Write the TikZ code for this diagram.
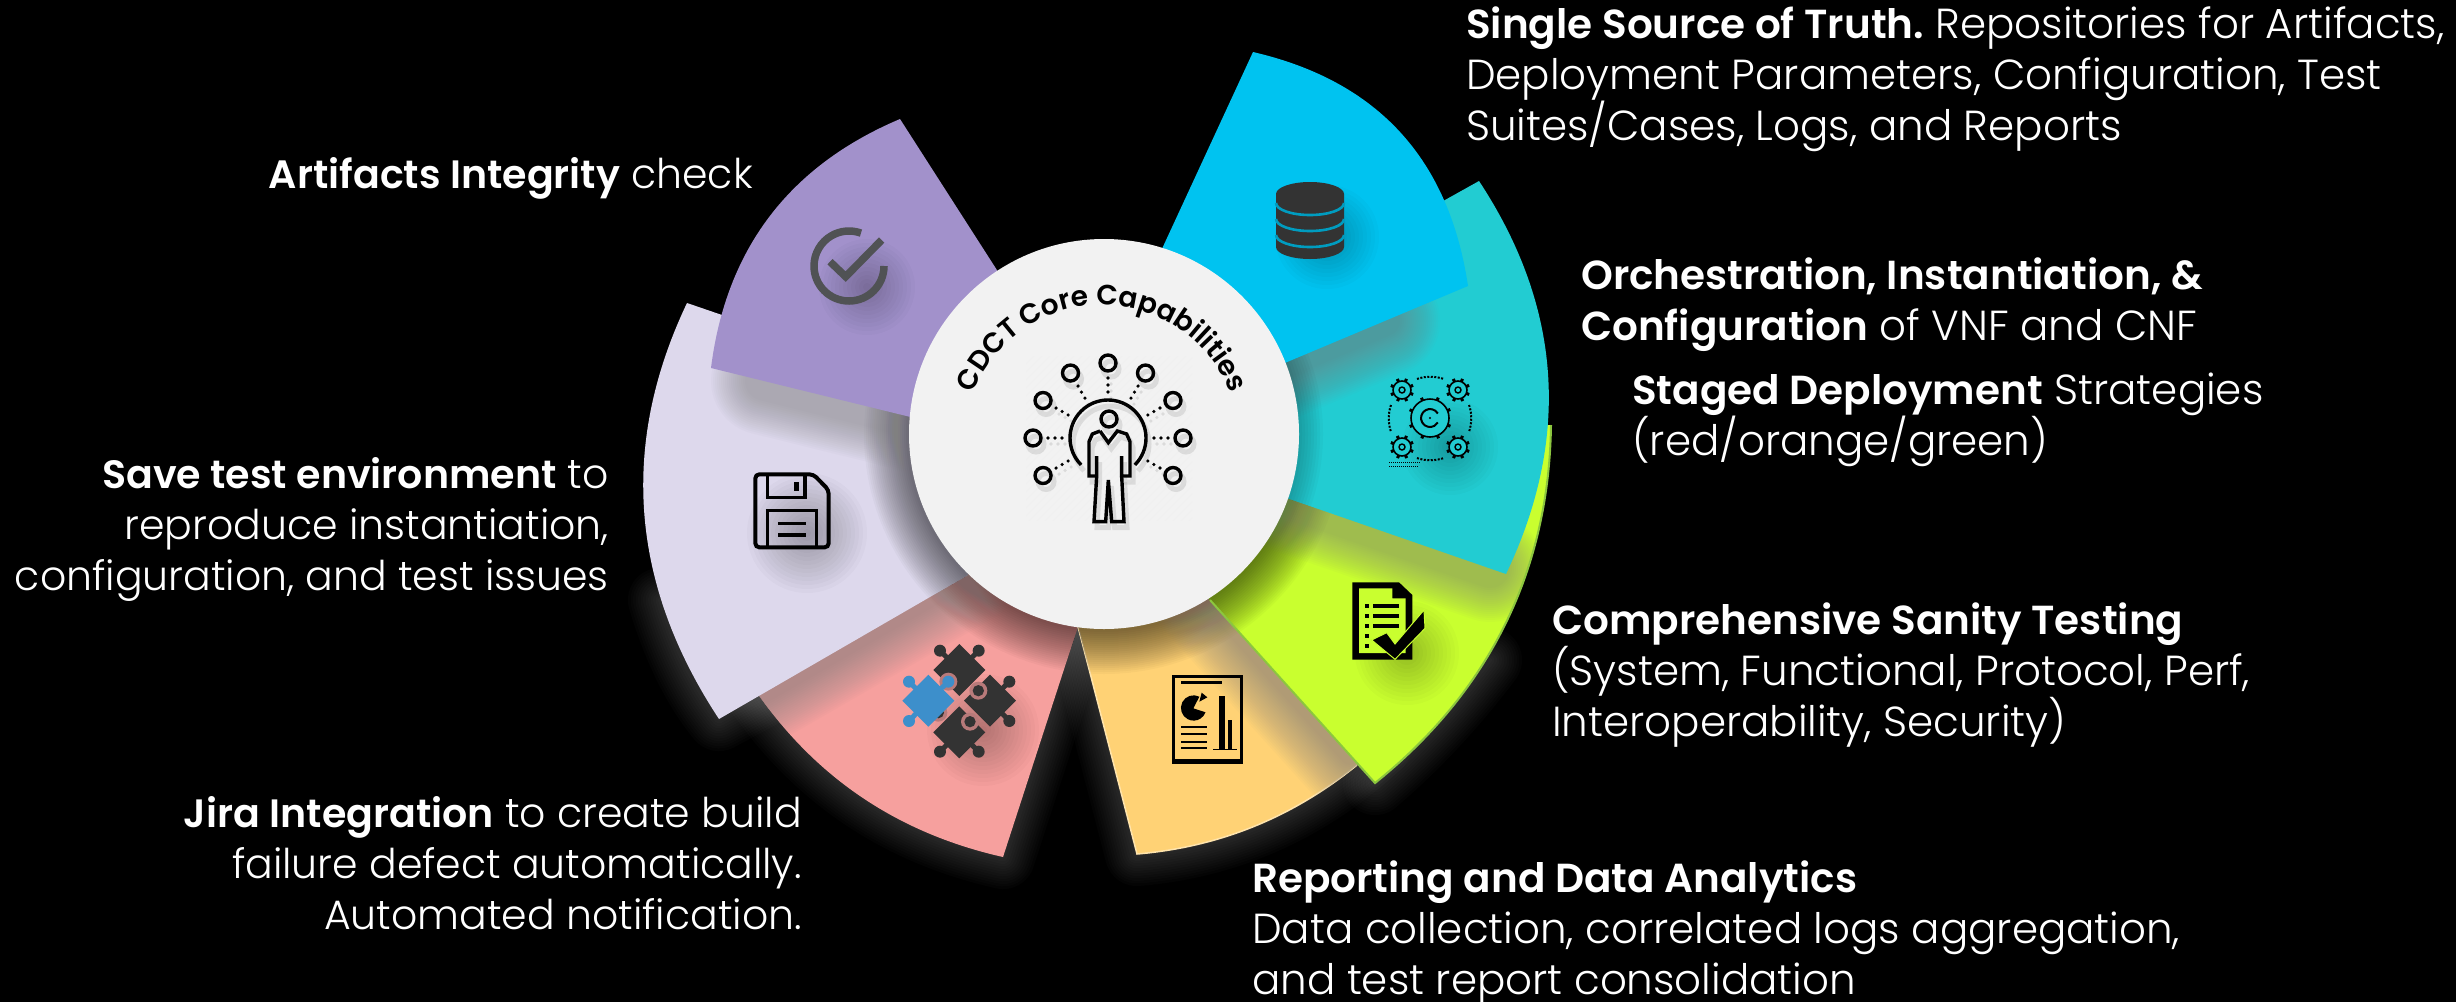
\documentclass[tikz,border=0pt]{standalone}
\usepackage{fontspec}
\setmainfont{Poppins}[UprightFont=* Light,BoldFont=* SemiBold,BoldFeatures={Scale=.965}]
\newfontfamily\ringfont{Poppins SemiBold}
\usetikzlibrary{calc,decorations.text}
\frenchspacing
\definecolor{cyanfill}{HTML}{00C3F0}
\definecolor{tealfill}{HTML}{22CCD2}
\definecolor{greenfill}{HTML}{C9FF2F}
\definecolor{greenedge}{HTML}{8CC63F}
\definecolor{yellowfill}{HTML}{FFD275}
\definecolor{salmonfill}{HTML}{F6A09E}
\definecolor{lilacfill}{HTML}{DDD8EC}
\definecolor{purplefill}{HTML}{A291CB}
\definecolor{hubfill}{HTML}{F2F2F2}
\definecolor{darkicon}{HTML}{333333}
\definecolor{checkicon}{HTML}{505254}
\definecolor{puzzleblue}{HTML}{3D8FCB}
\definecolor{puzzlering}{HTML}{B87A7A}
\tikzset{
	note/.style={text=white,inner sep=0pt,font=\fontsize{42}{51}\selectfont},
	leftnote/.style={note,anchor=base east,align=right,font=\fontsize{41}{51}\selectfont},
	rightnote/.style={note,anchor=base west,align=left},
	edgeshade/.style={color=gray,opacity=.035,line cap=round},
	ringshade/.style={color=black,opacity=.026},
	glowline/.style={color=white,opacity=.016,line cap=round,line join=round},
	spotshade/.style={fill=black,opacity=.02},
	zoomed/.style={shift={(#1)},scale=1/3}
}
% petal outlines, in pixels of the picture
\newcommand{\purplepath}{(900,119) .. controls (789,166) and (726,249) .. (711,368) -- (1000,439) -- (1020,306) -- cycle}
\newcommand{\lilacpath}{(687,303) .. controls (618,448) and (632,587) .. (719,719) -- (968,575) -- (1000,450) -- (900,376) -- cycle}
\newcommand{\salmonpath}{(745,680) -- (760,697) .. controls (820,781) and (901,834) .. (1003,857) -- (1080,620) -- (900,500) -- cycle}
\newcommand{\yellowpath}{(1075,615) -- (1137,854) .. controls (1220,847) and (1293,817) .. (1357,765) -- (1380,745) -- (1200,590) -- cycle}
\newcommand{\greenpath}{(1551,425) .. controls (1549,569) and (1491,690) .. (1375,783) -- (1180,567) -- (1200,440) -- cycle}
\newcommand{\tealpath}{(1479,181) .. controls (1562,307) and (1571,438) .. (1506,574) -- (1200,468) -- (1300,281) -- cycle}
\newcommand{\cyanpath}{(1253,52) .. controls (1378,81) and (1449,159) .. (1468,286) -- (1230,386) -- (1130,318) -- cycle}
\newcommand{\hubpath}{(1104,434) circle (195)}
\newcommand{\softedge}[3]{\foreach \w in {#1} \draw[#2,line width=\w pt] #3;}
\newcommand{\softspot}[3]{\foreach \r in {4,8,...,#3} \fill[spotshade] (#1,#2) circle (\r);}
\newcommand{\gearmark}[4]{% x, y, radius, hole
	\foreach \a in {0,45,...,315} \draw[line width=3pt] ($(#1,#2)+(\a+22:#3-1)$) -- ($(#1,#2)+(\a+22:#3+3)$);
	\draw[line width=1.6pt,fill=tealfill] (#1,#2) circle (#3);
	\draw[line width=1.4pt] (#1,#2) circle (#4);
}
\newcommand{\personmark}{
	\foreach \a in {-90,-120,-60,-150,-30,180,0,150,30} {
		\draw ($(1108,438)+(\a:75)$) circle (8);
		\foreach \r in {46,53,60} \fill ($(1108,438)+(\a:\r)$) circle (1.8);
	}
	\draw (1108,438) ++(135:38) arc[start angle=135,end angle=405,radius=38];
	\draw (1109,419) circle (8);
	\begin{scope}[zoomed={900,250}]
		\draw (600,543) -- (625,578) -- (652,543) -- (680,552) -- (690,575) -- (690,678) -- (665,678) -- (665,618);
		\draw (665,678) -- (672,815) -- (635,815) -- (625,690) -- (617,815) -- (582,815) -- (590,678) -- (590,618);
		\draw (590,678) -- (567,678) -- (567,575) -- (577,552) -- (600,543);
	\end{scope}
}

\begin{document}
\begin{tikzpicture}[x=1pt,y=-1pt]
	\fill[black] (0,0) rectangle (2456,1002);
	\useasboundingbox (0,0) rectangle (2456,1002);

	% glow under the lower petals
	\softedge{4,9,...,64}{glowline}{\salmonpath}
	\softedge{4,9,...,64}{glowline}{\yellowpath}
	\softedge{4,9,...,64}{glowline}{(660,600) .. controls (675,650) and (695,690) .. (719,719) -- (760,697)}
	\softedge{4,9,...,64}{glowline}{(1490,660) .. controls (1460,700) and (1420,745) .. (1375,783)}

	% petals from the bottom up, each with the shade of what lies on it
	\fill[salmonfill] \salmonpath;
	\begin{scope}
		\clip \salmonpath;
		\softedge{6,10,...,90}{ringshade}{\hubpath}
		\softedge{20,24,...,100}{edgeshade}{(968,575) -- (760,695)}
	\end{scope}
	\fill[yellowfill] \yellowpath;
	\draw[yellowfill!60!white,line width=1.5pt] (1075,615) -- (1137,854) .. controls (1220,847) and (1293,817) .. (1357,765);
	\begin{scope}
		\clip \yellowpath;
		\softedge{6,10,...,90}{ringshade}{\hubpath}
		\softedge{20,24,...,110}{edgeshade}{(1190,578) -- (1350,755)}
	\end{scope}
	\fill[greenfill] \greenpath;
	\begin{scope}
		\clip \greenpath;
		\softedge{6,10,...,90}{ringshade}{\hubpath}
		\softedge{40,44,...,110}{edgeshade}{(1200,468) -- (1490,568)}
	\end{scope}
	\draw[greenedge,line width=2pt] (1551,425) .. controls (1549,569) and (1491,690) .. (1375,783) -- (1210,600);
	\fill[tealfill] \tealpath;
	\begin{scope}
		\clip \tealpath;
		\softedge{30,34,...,110}{edgeshade}{(1230,386) -- (1385,321)}
		\softedge{6,12,...,50}{ringshade}{\hubpath}
	\end{scope}
	\fill[lilacfill] \lilacpath;
	\begin{scope}
		\clip \lilacpath;
		\softedge{6,10,...,90}{ringshade}{\hubpath}
		\softedge{40,44,...,110}{edgeshade}{(765,381) -- (1000,439)}
	\end{scope}
	\fill[cyanfill] \cyanpath;
	\fill[purplefill] \purplepath;
	\fill[hubfill] \hubpath;

	% soft shade under the icons
	\begin{scope}
		\clip \purplepath;
		\softspot{867}{287}{48}
	\end{scope}
	\softspot{1327}{237}{52}
	\softspot{807}{533}{60}
	\softspot{1407}{653}{52}
	\softspot{983}{730}{56}
	\softspot{1450}{447}{48}

	% check mark
	\draw[checkicon,line width=7.5pt] (849,266) ++(0:35) arc[start angle=0,end angle=290,radius=35];
	\begin{scope}[zoomed={680,90}]
		\draw[checkicon,line width=7.5pt] (450,515) -- (497,560) -- (605,450);
	\end{scope}

	% database
	\fill[darkicon] (1276,194) arc[start angle=180,end angle=360,x radius=34,y radius=12] -- (1344,247)
		arc[start angle=0,end angle=180,x radius=34,y radius=12] -- cycle;
	\foreach \y in {203,219,235}
		\draw[cyanfill!80!black,line width=2.6pt] (1276,\y) arc[start angle=180,end angle=0,x radius=34,y radius=12];

	% gears
	\begin{scope}[color=black]
		\gearmark{1402}{390}{9}{3}
		\gearmark{1458}{390}{9}{3}
		\gearmark{1402}{447}{9}{3}
		\gearmark{1458}{447}{9}{3}
		\gearmark{1430}{418}{19}{0.1}
		\draw[line width=2pt] (1430,418) ++(-30:9) arc[start angle=-30,end angle=-330,radius=9];
		\draw[line width=2pt,dash pattern=on 2pt off 1.5pt] (1417,379) .. controls (1425,376) and (1435,376) .. (1444,379);
		\draw[line width=2pt,dash pattern=on 2pt off 1.5pt] (1417,458) .. controls (1425,461) and (1435,461) .. (1444,458);
		\draw[line width=2pt,dash pattern=on 2pt off 1.5pt] (1391,405) .. controls (1388,413) and (1388,423) .. (1391,432);
		\draw[line width=2pt,dash pattern=on 2pt off 1.5pt] (1469,405) .. controls (1472,413) and (1472,423) .. (1469,432);
		\draw[line width=1pt,dash pattern=on 1pt off 1pt] (1389,462) -- (1421,462);
		\draw[line width=1pt,dash pattern=on 1pt off 1pt] (1389,466) -- (1418,466);
	\end{scope}

	% test sheet
	\begin{scope}[zoomed={1100,420}]
		\fill[black] (757,487) -- (897,487) -- (937,525) -- (937,719) -- (757,719) -- cycle;
		\fill[greenfill] (777,505) -- (877,505) -- (877,535) -- (917,535) -- (917,699) -- (777,699) -- cycle;
		\foreach \y in {558,588,618,648,678} {
			\fill[black] (795,\y-6) rectangle (806,\y+6);
		}
		\foreach \y in {558,588,618} {
			\fill[black] (818,\y-6) rectangle (897,\y+6);
		}
		\fill[black,draw=greenfill,line width=1pt] (815,660) -- (860,638) -- (885,672) -- (972,570) -- (975,625) -- (885,718) -- cycle;
	\end{scope}

	% report sheet
	\begin{scope}[zoomed={1100,420}]
		\draw[black,line width=2.6pt] (220,769) rectangle (424,1022);
		\fill[black] (216,1020) rectangle (428,1031);
		\fill[black] (242,784) rectangle (367,793);
		\fill[black] (280,865) -- (298,830) arc[start angle=-63,end angle=-340,radius=38] -- cycle;
		\fill[black] (298,845) -- (305,818) -- (322,832) -- cycle;
		\foreach \y in {922,943,965,985}
			\fill[black] (242,\y-3) rectangle (320,\y+3);
		\fill[black] (358,828) rectangle (375,988);
		\fill[black] (385,900) rectangle (397,988);
		\fill[black] (340,986) rectangle (412,990);
	\end{scope}

	% puzzle
	\begin{scope}[zoomed={720,540},fill=darkicon]
		\foreach \x/\y in {718/390,810/482,718/577} \fill (\x,\y-78) -- (\x+78,\y) -- (\x,\y+78) -- (\x-78,\y) -- cycle;
		\foreach \x/\y/\u/\v in {718/390/660/332,718/390/776/332,810/482/868/425,810/482/868/543,718/577/660/635,718/577/776/635} {
			\draw[darkicon,line width=5pt] (\x,\y) -- (\u,\v);
			\fill (\u,\v) circle (18);
		}
		\foreach \x/\y in {775/452,750/545,655/518} {
			\fill[puzzlering] (\x,\y) circle (27);
			\fill (\x,\y) circle (17);
		}
		\fill[puzzleblue] (625,404) -- (703,482) -- (625,560) -- (547,482) -- cycle;
		\foreach \u/\v in {567/425,567/543} {
			\draw[puzzleblue,line width=5pt] (625,482) -- (\u,\v);
			\fill[puzzleblue] (\u,\v) circle (18);
		}
		\fill[puzzlering] (685,425) circle (27);
		\draw[puzzleblue,line width=5pt] (625,482) -- (685,425);
		\fill[puzzleblue] (685,425) circle (18);
	\end{scope}

	% floppy
	\begin{scope}[zoomed={620,140},line width=4pt]
		\draw[black,rounded corners=4pt] (406,1003) -- (580,1003) -- (626,1050) -- (626,1222) -- (406,1222) -- cycle;
		\draw[black,line width=3.4pt] (443,1005) -- (443,1072) -- (555,1072) -- (555,1005);
		\fill[black] (523,1025) rectangle (537,1053);
		\draw[black,line width=3.4pt] (443,1222) -- (443,1112) -- (590,1112) -- (590,1222);
		\fill[black] (475,1145) rectangle (558,1155);
		\fill[black] (475,1180) rectangle (558,1190);
	\end{scope}

	% hub
	\begin{scope}
		\clip (1026,356) rectangle (1192,520);
		\foreach \s in {0,8,...,330}
			\draw[black!6,line width=1pt] (1026,356+\s) -- (1026+\s,356);
	\end{scope}
	\begin{scope}[shift={(3,6)},color=black!35,line width=5pt,opacity=.3]
		\personmark
	\end{scope}
	\begin{scope}[color=black,line width=3.4pt]
		\personmark
	\end{scope}
	\path[decorate,decoration={text along path,text align=center,
		text={|\ringfont\fontsize{28}{28}\selectfont|CDCT Core Capabilities}}]
		(1102,443) ++(198:138) arc[start angle=198,end angle=342,radius=138];

	% labels
	\node[rightnote] (truth) at (1466,140) {\textbf{Single Source of Truth.} Repositories for Artifacts,\\Deployment Parameters, Configuration, Test\\Suites/Cases, Logs, and Reports};
	\node[rightnote] (orchestration) at (1581,340) {\textbf{Orchestration, Instantiation, \&}\\\textbf{Configuration} of VNF and CNF};
	\node[rightnote] (staged) at (1632,455) {\textbf{Staged Deployment} Strategies\\(red/orange/green)};
	\node[rightnote] (sanity) at (1552,736) {\textbf{Comprehensive Sanity Testing}\\(System, Functional, Protocol, Perf,\\Interoperability, Security)};
	\node[rightnote] (reporting) at (1252,994) {\textbf{Reporting and Data Analytics}\\Data collection, correlated logs aggregation,\\and test report consolidation};
	\node[leftnote] (jira) at (802,929) {\textbf{Jira Integration} to create build\\failure defect automatically.\\Automated notification.};
	\node[leftnote] (environment) at (609,590) {\textbf{Save test environment} to\\reproduce instantiation,\\configuration, and test issues};
	\node[leftnote] (integrity) at (753,188) {\textbf{Artifacts Integrity} check};
\end{tikzpicture}
\end{document}
